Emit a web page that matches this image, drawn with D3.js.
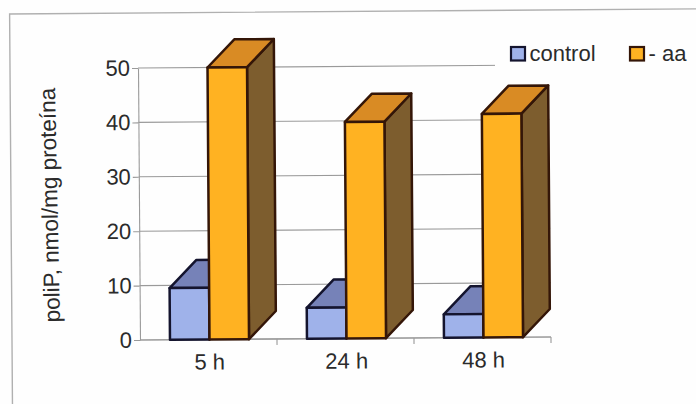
<!DOCTYPE html>
<html>
<head>
<meta charset="utf-8">
<script src="https://cdn.jsdelivr.net/npm/d3@7"></script>
<style>
  html, body { margin: 0; padding: 0; background: #fefefe; }
  svg { display: block; }
  text { font-family: "Liberation Sans", Arial, sans-serif; fill: #2b2b2b; }
  .axis path, .axis line { stroke: #9a9a9a; stroke-width: 1.1; }
  .axis text { font-size: 22px; fill: #2b2b2b; }
</style>
</head>
<body>
<svg id="chart" width="696" height="404"></svg>
<script>
// Polyphosphate levels over time, with and without amino acids
const categories = ["5 h", "24 h", "48 h"];
const seriesNames = ["control", "- aa"];
const controlValues = [9.5, 5.7, 4.3];
const minusAaValues = [50, 39.8, 41.1];
const yTicks = [0, 10, 20, 30, 40, 50];
const yLabel = "poliP, nmol/mg proteína";

const palette = {
  control: { front: "#9fb2ea", top: "#7682b8", side: "#5b6390", line: "#14142e" },
  "- aa": { front: "#ffb222", top: "#d98b24", side: "#7d5d2e", line: "#341608" }
};
const depthX = 27, depthY = 28;

const svg = d3.select("#chart");
// The whole sheet sits very slightly askew
const g = svg.append("g").attr("transform", "rotate(-0.42 140 340)");

// Sheet frame: only the top and left edges fall inside the page
g.append("path")
  .attr("d", "M12,430V13H720")
  .attr("fill", "none")
  .attr("stroke", "#b0b0b0")
  .attr("stroke-width", 1.4);

const x = d3.scaleBand().domain(categories).range([141, 552]).paddingInner(0.423).paddingOuter(0.2115);
const xInner = d3.scaleBand().domain(seriesNames).range([0, x.bandwidth()]);
const y = d3.scaleLinear().domain([0, 50]).range([340, 68]);

// Value axis with gridlines running across the plot
const yAxis = g.append("g").attr("class", "axis")
  .attr("transform", "translate(140,0)")
  .call(d3.axisLeft(y).tickValues(yTicks).tickSize(6).tickPadding(2).tickSizeOuter(0));
yAxis.selectAll(".grid").data(yTicks).enter().append("line")
  .attr("class", "grid")
  .attr("x1", 0).attr("x2", 411)
  .attr("y1", d => y(d)).attr("y2", d => y(d));

// Category axis: ticks fall on the band edges, not the band centres
const edgeTicks = d3.scaleLinear().domain([0, categories.length]).range([140, 551]);
const xAxisG = g.append("g").attr("class", "axis").attr("transform", "translate(0,340)");
xAxisG.append("line").attr("x1", 140).attr("x2", 551);
xAxisG.selectAll(".edge").data(d3.range(1, categories.length + 1)).enter().append("line")
  .attr("class", "edge")
  .attr("x1", d => edgeTicks(d)).attr("x2", d => edgeTicks(d))
  .attr("y1", 0).attr("y2", 6);
xAxisG.selectAll(".cat").data(categories).enter().append("text")
  .attr("class", "cat")
  .attr("x", d => x(d) + x.bandwidth() / 2)
  .attr("y", 30)
  .attr("text-anchor", "middle")
  .text(d => d);

// Legend sits on a white patch that hides the end of the top gridline
const legendG = svg.append("g");
legendG.append("rect").attr("x", 495).attr("y", 36).attr("width", 201).attr("height", 34).attr("fill", "#fefefe");
const legendX = { control: 510, "- aa": 629 };
const legendItems = legendG.selectAll(".item").data(seriesNames).enter().append("g").attr("class", "item");
legendItems.append("rect")
  .attr("x", d => legendX[d] + 1).attr("y", 47)
  .attr("width", 14).attr("height", 13.5)
  .attr("fill", d => palette[d].front)
  .attr("stroke", d => palette[d].line)
  .attr("stroke-width", 2.2);
legendItems.append("text")
  .attr("x", d => legendX[d] + 19.5)
  .attr("y", 61)
  .attr("font-size", 22)
  .text(d => d);

// Y axis title
svg.append("text")
  .attr("transform", "translate(57.5,205) rotate(-91.2)")
  .attr("text-anchor", "middle")
  .attr("font-size", 22.5)
  .text(yLabel);

// Bars as extruded boxes, group by group so each one overlaps its left neighbour
const rows = categories.flatMap((c, i) => [
  { cat: c, name: seriesNames[0], value: controlValues[i] },
  { cat: c, name: seriesNames[1], value: minusAaValues[i] }
]);

const bars = g.selectAll(".bar").data(rows).enter().append("g")
  .attr("class", "bar")
  .attr("stroke-width", 2.5)
  .attr("stroke-linejoin", "round")
  .attr("stroke", d => palette[d.name].line);

const geom = d => {
  const x0 = x(d.cat) + xInner(d.name);
  return { x0, x1: x0 + xInner.bandwidth(), y0: y(0), y1: y(d.value) };
};

bars.append("path").attr("fill", d => palette[d.name].side).attr("d", d => {
  const b = geom(d);
  return `M${b.x1},${b.y0}L${b.x1 + depthX},${b.y0 - depthY}L${b.x1 + depthX},${b.y1 - depthY}L${b.x1},${b.y1}Z`;
});
bars.append("path").attr("fill", d => palette[d.name].top).attr("d", d => {
  const b = geom(d);
  return `M${b.x0},${b.y1}L${b.x0 + depthX},${b.y1 - depthY}L${b.x1 + depthX},${b.y1 - depthY}L${b.x1},${b.y1}Z`;
});
bars.append("path").attr("fill", d => palette[d.name].front).attr("d", d => {
  const b = geom(d);
  return `M${b.x0},${b.y0}L${b.x0},${b.y1}L${b.x1},${b.y1}L${b.x1},${b.y0}Z`;
});
</script>
</body>
</html>
